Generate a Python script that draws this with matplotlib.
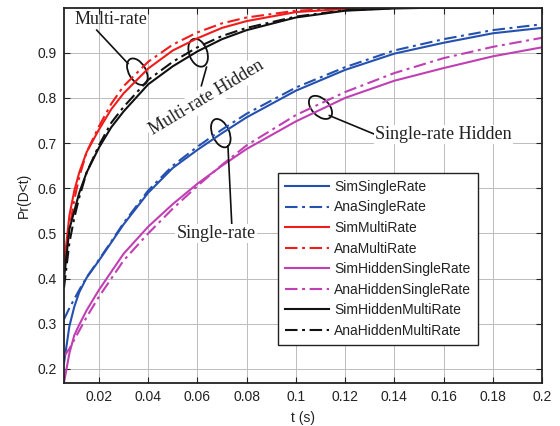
import numpy as np
import matplotlib
matplotlib.use("Agg")
import matplotlib.pyplot as plt
import matplotlib.transforms as mtransforms
from matplotlib.patches import Ellipse

plt.rcParams['font.family'] = ['Liberation Sans', 'DejaVu Sans']

# ---- data ----
t = [0.0058, 0.008, 0.01, 0.012, 0.015, 0.02, 0.025, 0.03, 0.04, 0.05, 0.06,
     0.07, 0.08, 0.1, 0.12, 0.14, 0.16, 0.18, 0.2]

sim_single = [0.213, 0.295, 0.338, 0.37, 0.402, 0.44, 0.48, 0.52, 0.59, 0.645, 0.685,
              0.722, 0.757, 0.816, 0.862, 0.898, 0.922, 0.943, 0.955]
ana_single = [0.31, 0.335, 0.355, 0.375, 0.403, 0.442, 0.482, 0.523, 0.595, 0.65, 0.692,
              0.73, 0.765, 0.823, 0.868, 0.905, 0.93, 0.95, 0.963]
sim_multi = [0.43, 0.54, 0.595, 0.635, 0.68, 0.73, 0.775, 0.81, 0.865, 0.905, 0.932,
             0.955, 0.97, 0.99, 0.997, 0.999, 1.0, 1.0, 1.0]
ana_multi = [0.42, 0.51, 0.575, 0.625, 0.68, 0.737, 0.787, 0.826, 0.88, 0.918, 0.945,
             0.965, 0.978, 0.993, 0.998, 1.0, 1.0, 1.0, 1.0]
sim_hidden_single = [0.17, 0.235, 0.275, 0.298, 0.33, 0.375, 0.415, 0.455, 0.515, 0.565, 0.61,
                     0.65, 0.687, 0.748, 0.80, 0.838, 0.866, 0.892, 0.912]
ana_hidden_single = [0.228, 0.245, 0.265, 0.285, 0.315, 0.36, 0.40, 0.44, 0.50, 0.555, 0.605,
                     0.652, 0.695, 0.762, 0.813, 0.855, 0.888, 0.913, 0.933]
sim_hidden_multi = [0.40, 0.51, 0.55, 0.59, 0.635, 0.69, 0.735, 0.77, 0.83, 0.87, 0.903,
                    0.93, 0.95, 0.978, 0.993, 0.998, 1.0, 1.0, 1.0]
ana_hidden_multi = [0.38, 0.48, 0.535, 0.58, 0.635, 0.695, 0.745, 0.78, 0.84, 0.88, 0.912,
                    0.937, 0.955, 0.98, 0.994, 0.999, 1.0, 1.0, 1.0]

labels = ['SimSingleRate', 'AnaSingleRate', 'SimMultiRate', 'AnaMultiRate',
          'SimHiddenSingleRate', 'AnaHiddenSingleRate', 'SimHiddenMultiRate',
          'AnaHiddenMultiRate']
series = [sim_single, ana_single, sim_multi, ana_multi,
          sim_hidden_single, ana_hidden_single, sim_hidden_multi, ana_hidden_multi]

xticks = [0.02, 0.04, 0.06, 0.08, 0.1, 0.12, 0.14, 0.16, 0.18, 0.2]
xticklabels = ['0.02', '0.04', '0.06', '0.08', '0.1', '0.12', '0.14', '0.16', '0.18', '0.2']
yticks = [0.2, 0.3, 0.4, 0.5, 0.6, 0.7, 0.8, 0.9]
yticklabels = ['0.2', '0.3', '0.4', '0.5', '0.6', '0.7', '0.8', '0.9']

# ---- styles ----
blue = '#2450b0'
red = '#f01c1c'
magenta = '#c040b4'
black = '#111111'
dashdot = (0, (6, 2.2, 1.4, 2.2))
colors = [blue, blue, red, red, magenta, magenta, black, black]
styles = ['-', dashdot] * 4

fig = plt.figure(figsize=(5.6, 4.26), dpi=100)
ax = fig.add_axes([64 / 560, 43 / 426, 478 / 560, 375 / 426])

for y, lab, c, ls in zip(series, labels, colors, styles):
    ax.plot(t, y, color=c, linestyle=ls, linewidth=1.5, label=lab)

ax.set_xlim(0.0058, 0.2)
ax.set_ylim(0.169, 0.999)
ax.set_xticks(xticks)
ax.set_xticklabels(xticklabels)
ax.set_yticks(yticks)
ax.set_yticklabels(yticklabels)
ax.tick_params(direction='in', length=4, width=0.8, top=True, right=True,
               labelsize=10, colors='#222222', pad=5)
ax.grid(True, color='#bcbcbc', linewidth=0.7)
ax.set_axisbelow(True)
for s in ax.spines.values():
    s.set_linewidth(1.3)
    s.set_color('#222222')

ax.set_xlabel('t (s)', fontsize=10, color='#222222', labelpad=5)
ax.set_ylabel('Pr(D<t)', fontsize=10, color='#222222', labelpad=5)

leg = ax.legend(loc='upper left', bbox_to_anchor=(0.4477, 0.56), borderaxespad=0,
                fontsize=10, handlelength=3.2, handletextpad=0.35,
                labelspacing=0.47, borderpad=0.5, fancybox=False, framealpha=1,
                edgecolor='#222222')
leg.get_frame().set_linewidth(1.0)
for txt in leg.get_texts():
    txt.set_color('#222222')

# ---- annotations ----
serif = ['Liberation Serif', 'DejaVu Serif']
fs = 13
ax.text(0.0247, 0.974, 'Multi-rate', family=serif, fontsize=fs, ha='center',
        va='center', color='#222222')
ax.text(0.0636, 0.80, 'Multi-rate Hidden', family=serif, fontsize=fs, ha='center',
        va='center', rotation=31, rotation_mode='anchor', color='#222222',
        bbox=dict(facecolor='white', edgecolor='none', pad=1.5))
ax.text(0.0676, 0.50, 'Single-rate', family=serif, fontsize=fs, ha='center',
        va='center', color='#222222',
        bbox=dict(facecolor='white', edgecolor='none', pad=1.0))
ax.text(0.1323, 0.719, 'Single-rate Hidden', family=serif, fontsize=fs, ha='left',
        va='center', color='#222222',
        bbox=dict(facecolor='white', edgecolor='none', pad=1.0))

# pointer lines
ax.plot([0.0191, 0.0318], [0.950, 0.876], color='#111111', lw=1.2)
ax.plot([0.0637, 0.0616], [0.868, 0.827], color='#111111', lw=1.2)
ax.plot([0.0724, 0.0740], [0.694, 0.516], color='#111111', lw=1.2)
ax.plot([0.1136, 0.1318], [0.761, 0.720], color='#111111', lw=1.2)

# ellipses (center in data coords, size in pixels)
ellipses = [
    (0.0356, 0.858, 29, 17, -60),
    (0.0603, 0.900, 29, 18, -70),
    (0.0695, 0.722, 30, 17, -67),
    (0.1100, 0.779, 28, 17, -45),
]
for (ex, ey, w, h, ang) in ellipses:
    tr = mtransforms.ScaledTranslation(ex, ey, ax.transData)
    e = Ellipse((0, 0), w, h, angle=ang, fill=False, edgecolor='#111111',
                linewidth=1.3, transform=tr)
    ax.add_artist(e)

fig.savefig('out.png', dpi=100)
